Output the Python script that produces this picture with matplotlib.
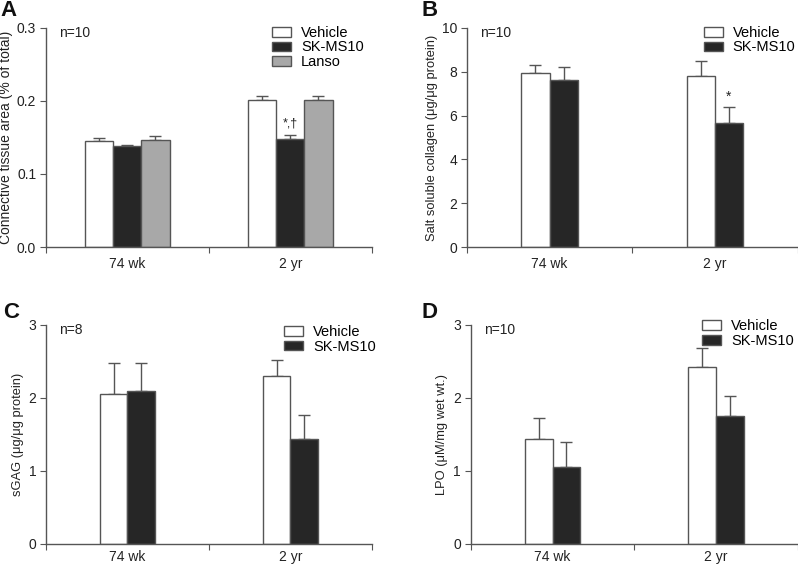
import matplotlib
matplotlib.use("Agg")
import matplotlib.pyplot as plt
import numpy as np

plt.rcParams['font.family'] = ['Liberation Sans', 'DejaVu Sans']

# data
groups = ["74 wk", "2 yr"]

a_vehicle = [0.145, 0.2015]
a_vehicle_err = [0.004, 0.005]
a_sk = [0.138, 0.148]
a_sk_err = [0.002, 0.006]
a_lanso = [0.1465, 0.201]
a_lanso_err = [0.005, 0.0055]

b_vehicle = [7.93, 7.79]
b_vehicle_err = [0.38, 0.69]
b_sk = [7.63, 5.68]
b_sk_err = [0.59, 0.71]

c_vehicle = [2.055, 2.30]
c_vehicle_err = [0.43, 0.22]
c_sk = [2.10, 1.435]
c_sk_err = [0.375, 0.335]

d_vehicle = [1.435, 2.42]
d_vehicle_err = [0.29, 0.26]
d_sk = [1.06, 1.75]
d_sk_err = [0.335, 0.27]

edge = '#555555'
fills = {'Vehicle': 'white', 'SK-MS10': '#262626', 'Lanso': '#a8a8a8'}


def bar_panel(ax, series, ylim, yticks, fmt, ylabel, label_x, ntext, leg_x,
              leg_y, catpad=7, label_size=9.3):
    x = np.arange(len(groups))
    w = 0.172 if len(series) == 3 else 0.17
    k = len(series)
    for i, (name, vals, errs) in enumerate(series):
        pos = x + (i - (k - 1) / 2) * w
        ax.bar(pos, vals, w, color=fills[name], edgecolor=edge, linewidth=1,
               label=name, zorder=2)
        ax.errorbar(pos, vals, yerr=[np.zeros(len(vals)), errs], fmt='none',
                    ecolor=edge, elinewidth=1, capsize=4, capthick=1, zorder=1)
    ax.set_xlim(-0.5, 1.5)
    ax.set_ylim(*ylim)
    ax.set_yticks(yticks)
    ax.set_yticklabels([fmt.format(t) for t in yticks])
    ax.set_xticks([-0.5, 0.5, 1.5])
    ax.set_xticklabels([])
    ax.set_xticks(x, minor=True)
    ax.set_xticklabels(groups, minor=True)
    ax.tick_params(axis='x', which='minor', length=0, pad=catpad, labelsize=10,
                   labelcolor='#222222')
    ax.tick_params(axis='x', which='major', length=4, color=edge)
    ax.tick_params(axis='y', length=4, color=edge, labelsize=10,
                   labelcolor='#222222', pad=3)
    for s in ['top', 'right']:
        ax.spines[s].set_visible(False)
    for s in ['left', 'bottom']:
        ax.spines[s].set_color(edge)
        ax.spines[s].set_linewidth(1)
    ax.set_ylabel(ylabel, fontsize=label_size, color='#222222', va='center')
    ax.yaxis.set_label_coords(label_x, 0.5)
    ax.text(0.04, 0.977, ntext, transform=ax.transAxes, fontsize=10,
            va='center', ha='left', color='#222222')
    ax.legend(loc='upper left', bbox_to_anchor=(leg_x, leg_y), frameon=False,
              fontsize=10.5, handlelength=1.3, handleheight=0.65,
              handletextpad=0.7, labelspacing=0.05, borderpad=0,
              borderaxespad=0)


fig = plt.figure(figsize=(7.98, 5.66), dpi=100)
axA = fig.add_axes([0.0576, 0.5636, 0.4085, 0.387])
axB = fig.add_axes([0.585, 0.5636, 0.4145, 0.387])
axC = fig.add_axes([0.0576, 0.0389, 0.4085, 0.387])
axD = fig.add_axes([0.590, 0.0389, 0.4095, 0.387])

bar_panel(axA, [('Vehicle', a_vehicle, a_vehicle_err),
                ('SK-MS10', a_sk, a_sk_err),
                ('Lanso', a_lanso, a_lanso_err)],
          (0, 0.3), [0, 0.1, 0.2, 0.3], '{:.1f}',
          'Connective tissue area (% of total)', -0.122, 'n=10', 0.693, 1.01,
          label_size=10)
axA.annotate('*,†', (1, a_sk[1] + a_sk_err[1]), xytext=(0, 4),
             textcoords='offset points', ha='center', va='bottom',
             fontsize=9, color='#222222')

bar_panel(axB, [('Vehicle', b_vehicle, b_vehicle_err),
                ('SK-MS10', b_sk, b_sk_err)],
          (0, 10), [0, 2, 4, 6, 8, 10], '{:d}',
          'Salt soluble collagen (μg/μg protein)', -0.106, 'n=10', 0.716, 1.01)
axB.annotate('*', (1 + 0.085, b_sk[1] + b_sk_err[1]), xytext=(0, 2),
             textcoords='offset points', ha='center', va='bottom',
             fontsize=10, color='#222222')

bar_panel(axC, [('Vehicle', c_vehicle, c_vehicle_err),
                ('SK-MS10', c_sk, c_sk_err)],
          (0, 3), [0, 1, 2, 3], '{:d}',
          'sGAG (μg/μg protein)', -0.086, 'n=8', 0.73, 1.0, catpad=4)

bar_panel(axD, [('Vehicle', d_vehicle, d_vehicle_err),
                ('SK-MS10', d_sk, d_sk_err)],
          (0, 3), [0, 1, 2, 3], '{:d}',
          'LPO (μM/mg wet wt.)', -0.089, 'n=10', 0.708, 1.025, catpad=4)

letter_font = ['Liberation Sans Narrow', 'Liberation Sans', 'DejaVu Sans']
for lab, x, y in [('A', 0.0, 1.0), ('B', 0.528, 1.0),
                  ('C', 0.004, 0.467), ('D', 0.528, 0.467)]:
    fig.text(x, y, lab, fontsize=16, fontweight='bold', family=letter_font,
             ha='left', va='top', color='#111111')

fig.savefig('out.png', dpi=100)
